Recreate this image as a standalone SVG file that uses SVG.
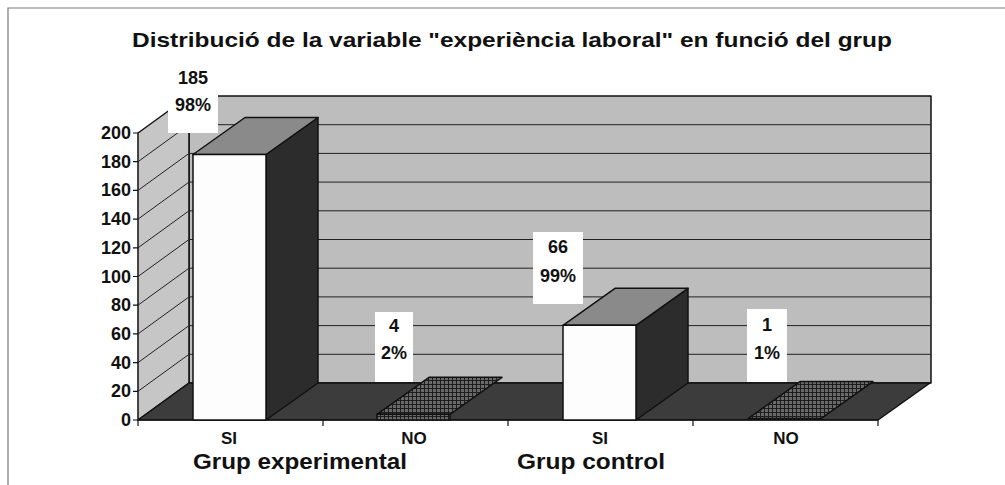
<svg xmlns="http://www.w3.org/2000/svg" width="1005" height="485" viewBox="0 0 1005 485">
<defs>
<pattern id="hatch" width="4" height="4" patternUnits="userSpaceOnUse">
<rect width="4" height="4" fill="#6a6a6a"/>
<path d="M0 0.5H4M0.5 0V4" stroke="#1e1e1e" stroke-width="1"/>
</pattern>
</defs>
<style>
text{font-family:"Liberation Sans",Arial,sans-serif;fill:#111}
.b{font-weight:bold}
.ax{font-size:18px;font-weight:bold;text-anchor:end}
.lbl{font-size:18px;font-weight:bold;text-anchor:middle}
.cat{font-size:17px;font-weight:bold;text-anchor:middle}
.grp{font-size:22px;font-weight:bold}
.grid{stroke:#222;stroke-width:1;fill:none}
.edge{stroke:#111;stroke-width:1.5;stroke-linejoin:round}
.front{fill:#fdfdfd}
.top{fill:#8a8a8a}
.side{fill:#2c2c2c}
.box{fill:#ffffff}
</style>
<rect width="1005" height="485" fill="#ffffff"/>
<path d="M8 485V8H1005" fill="none" stroke="#7a7a7a" stroke-width="1.2"/>
<text id="title" class="b" x="132" y="47" font-size="21" textLength="760" lengthAdjust="spacingAndGlyphs">Distribució de la variable "experiència laboral" en funció del grup</text>

<g id="walls">
<rect x="189" y="96" width="742" height="287" fill="#bdbdbd" class="edge"/>
<polygon points="138,420 138,133 189,96 189,383" fill="#c6c6c6" class="edge"/>
<polygon points="138,420 878,420 930,383 189,383" fill="#3c3c3c" class="edge"/>
</g>
<g id="gridlines" class="grid">
<path d="M189 354.3H931M189 325.6H931M189 296.9H931M189 268.2H931M189 239.5H931M189 210.8H931M189 182.1H931M189 153.4H931M189 124.7H931"/>
<path d="M138 391.3L189 354.3M138 362.6L189 325.6M138 333.9L189 296.9M138 305.2L189 268.2M138 276.5L189 239.5M138 247.8L189 210.8M138 219.1L189 182.1M138 190.4L189 153.4M138 161.7L189 124.7"/>
</g>
<g id="axes" stroke="#111" stroke-width="1.2">
<path d="M133 420H138M133 391.3H138M133 362.6H138M133 333.9H138M133 305.2H138M133 276.5H138M133 247.8H138M133 219.1H138M133 190.4H138M133 161.7H138M133 133H138"/>
<path d="M138 420H878M138 420V426M323 420V426M508 420V426M693 420V426M878 420V426"/>
</g>
<g id="yaxis-labels" class="ax">
<text x="131" y="426">0</text>
<text x="131" y="397">20</text>
<text x="131" y="369">40</text>
<text x="131" y="340">60</text>
<text x="131" y="311">80</text>
<text x="131" y="283">100</text>
<text x="131" y="254">120</text>
<text x="131" y="225">140</text>
<text x="131" y="196">160</text>
<text x="131" y="168">180</text>
<text x="131" y="139">200</text>
</g>

<g id="bar-exp-si">
<polygon class="side edge" points="266,154.5 318,117.5 318,383 266,420"/>
<polygon class="top edge" points="193,154.5 266,154.5 318,117.5 245,117.5"/>
<rect class="front edge" x="193" y="154.5" width="73" height="265.5"/>
</g>
<g id="bar-exp-no">
<polygon class="edge" fill="url(#hatch)" points="377,414.3 450,414.3 502,377.3 429,377.3"/>
<rect class="edge" fill="url(#hatch)" x="377" y="414.3" width="73" height="5.7"/>
</g>
<g id="bar-ctl-si">
<polygon class="side edge" points="636,325.3 688,288.3 688,383 636,420"/>
<polygon class="top edge" points="563,325.3 636,325.3 688,288.3 615,288.3"/>
<rect class="front edge" x="563" y="325.3" width="73" height="94.7"/>
</g>
<g id="bar-ctl-no">
<polygon class="edge" fill="url(#hatch)" points="748,418.6 821,418.6 873,381.6 800,381.6"/>
</g>

<g id="label-185">
<rect class="box" x="168" y="63" width="50" height="70"/>
<text class="lbl" x="193" y="84">185</text>
<text class="lbl" x="193" y="111">98%</text>
</g>
<g id="label-4">
<rect class="box" x="375" y="312" width="38" height="70"/>
<text class="lbl" x="394" y="332">4</text>
<text class="lbl" x="394" y="359">2%</text>
</g>
<g id="label-66">
<rect class="box" x="533" y="232" width="50" height="72"/>
<text class="lbl" x="558" y="253">66</text>
<text class="lbl" x="558" y="282">99%</text>
</g>
<g id="label-1">
<rect class="box" x="747" y="309" width="40" height="73"/>
<text class="lbl" x="767" y="331">1</text>
<text class="lbl" x="767" y="359">1%</text>
</g>

<g id="categories" class="cat">
<text x="229" y="444">SI</text>
<text x="414" y="444">NO</text>
<text x="600" y="444">SI</text>
<text x="786" y="444">NO</text>
</g>
<g id="groups" class="grp">
<text x="193" y="469" textLength="214" lengthAdjust="spacingAndGlyphs">Grup experimental</text>
<text x="517" y="469" textLength="148" lengthAdjust="spacingAndGlyphs">Grup control</text>
</g>
</svg>
